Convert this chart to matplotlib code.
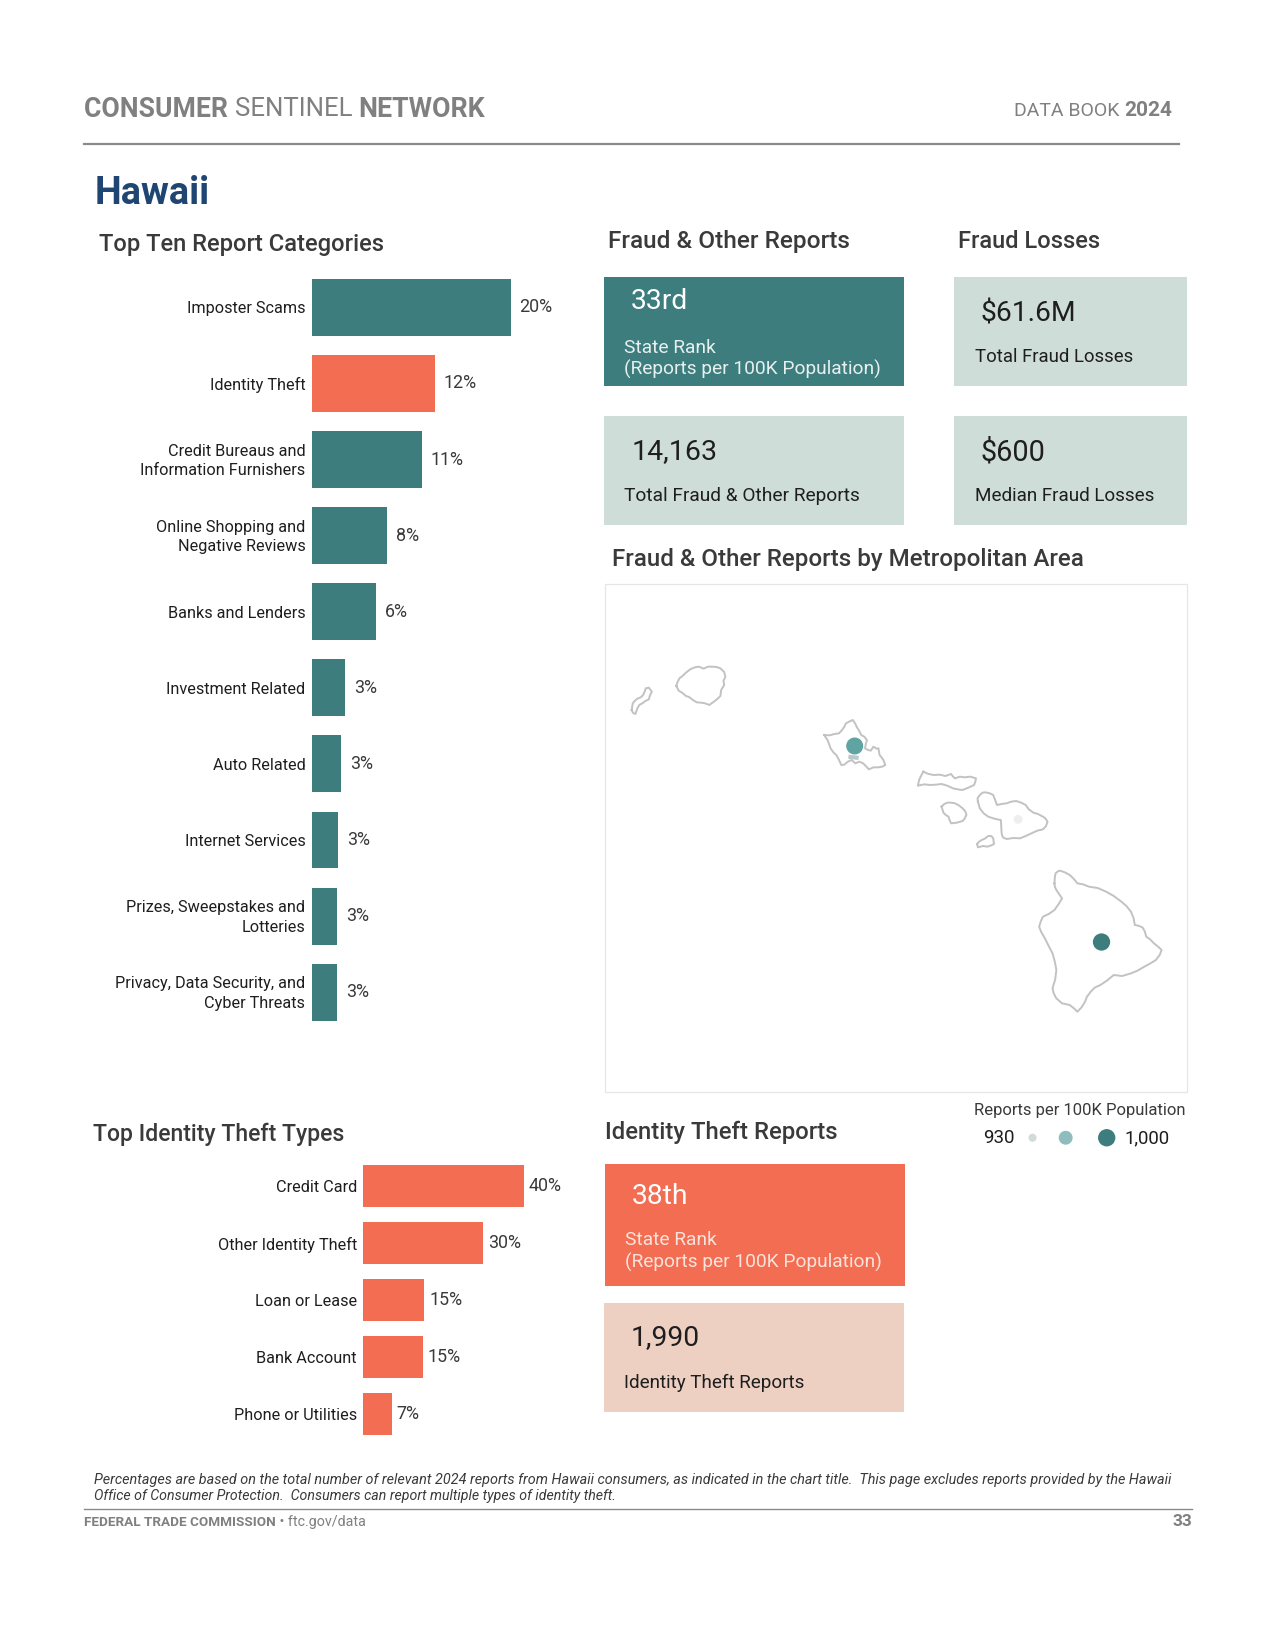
import matplotlib
matplotlib.use("Agg")
import matplotlib.pyplot as plt
from matplotlib.patches import Rectangle
from matplotlib.transforms import ScaledTranslation

plt.rcParams['font.family'] = ['Roboto', 'DejaVu Sans']

W, H = 1275, 1650
K = 1.0525  # measured positions below are on a slightly smaller copy of the page

TEAL = "#3E7D7E"
ORANGE = "#F26D52"
PALE_TEAL = "#CFDDD8"
PEACH = "#EDD0C2"
GREY = "#808080"
DARK = "#3A3A3A"
BLACK = "#1E1E1E"

top_cats = ["Imposter Scams", "Identity Theft", "Credit Bureaus and\nInformation Furnishers",
            "Online Shopping and\nNegative Reviews", "Banks and Lenders", "Investment Related",
            "Auto Related", "Internet Services", "Prizes, Sweepstakes and\nLotteries",
            "Privacy, Data Security, and\nCyber Threats"]
top_vals = [19.7, 12.2, 10.9, 7.5, 6.4, 3.3, 2.9, 2.6, 2.55, 2.55]
top_colors = [TEAL, ORANGE, TEAL, TEAL, TEAL, TEAL, TEAL, TEAL, TEAL, TEAL]

id_cats = ["Credit Card", "Other Identity Theft", "Loan or Lease", "Bank Account", "Phone or Utilities"]
id_vals = [40.2, 30.0, 15.3, 15.0, 7.1]

# island outlines
kauai_x = [197, 200, 205, 213, 222, 233, 245, 256, 268, 280, 290, 302, 312, 322, 325, 320, 322, 314, 312, 303, 295, 283, 272, 262, 250, 240, 230, 222, 212, 203, 197]
kauai_y = [198, 186, 175, 168, 158, 148, 142, 140, 146, 140, 140, 141, 145, 156, 170, 183, 195, 210, 228, 238, 245, 255, 250, 248, 247, 240, 231, 228, 218, 212, 198]
niihau_x = [80, 83, 88, 95, 104, 110, 114, 117, 125, 133, 128, 125, 116, 108, 100, 95, 90, 84, 80]
niihau_y = [270, 250, 243, 236, 232, 225, 215, 205, 203, 215, 226, 238, 243, 250, 255, 265, 282, 279, 270]
oahu_x = [583, 597, 610, 622, 630, 636, 640, 650, 658, 664, 668, 675, 680, 688, 695, 692, 690, 698, 705, 712, 720, 725, 728, 733, 738, 743, 735, 725, 712, 700, 692, 685, 675, 665, 655, 645, 636, 628, 622, 615, 608, 600, 596, 592, 583]
oahu_y = [345, 346, 342, 340, 330, 320, 310, 304, 300, 310, 320, 333, 345, 350, 360, 372, 385, 390, 392, 380, 386, 385, 405, 412, 420, 435, 440, 442, 442, 448, 438, 430, 425, 430, 420, 425, 434, 435, 420, 405, 398, 385, 372, 360, 345]
molokai_x = [842, 856, 870, 885, 900, 915, 920, 925, 938, 950, 965, 980, 978, 975, 960, 945, 932, 920, 905, 890, 875, 860, 845, 828, 830, 832, 842]
molokai_y = [455, 462, 465, 464, 468, 462, 470, 475, 470, 472, 470, 475, 486, 495, 503, 510, 508, 505, 497, 492, 494, 495, 493, 497, 487, 478, 455]
lanai_x = [890, 897, 905, 915, 925, 935, 945, 952, 955, 950, 945, 930, 915, 911, 908, 900, 895, 890]
lanai_y = [560, 552, 548, 548, 550, 556, 565, 574, 585, 596, 603, 608, 610, 600, 590, 584, 578, 560]
maui_x = [985, 984, 990, 997, 1005, 1016, 1025, 1030, 1035, 1047, 1060, 1072, 1085, 1098, 1110, 1118, 1130, 1142, 1155, 1162, 1167, 1163, 1155, 1140, 1125, 1110, 1095, 1078, 1060, 1050, 1047, 1046, 1045, 1035, 1025, 1012, 1000, 990, 985]
maui_y = [545, 535, 525, 518, 517, 520, 525, 540, 555, 552, 550, 545, 543, 548, 555, 568, 578, 582, 590, 596, 605, 618, 628, 632, 640, 648, 655, 654, 657, 652, 640, 620, 600, 598, 595, 590, 580, 565, 545]
kahoolawe_x = [983, 988, 995, 1003, 1012, 1020, 1025, 1027, 1020, 1010, 998, 985, 983]
kahoolawe_y = [672, 665, 660, 656, 648, 648, 655, 672, 676, 680, 678, 682, 672]
big_x = [1185, 1186, 1188, 1194, 1200, 1212, 1225, 1235, 1245, 1260, 1275, 1298, 1320, 1340, 1360, 1373, 1385, 1392, 1395, 1404, 1415, 1421, 1425, 1435, 1445, 1456, 1465, 1460, 1450, 1436, 1420, 1402, 1385, 1362, 1340, 1322, 1305, 1290, 1280, 1270, 1265, 1256, 1245, 1236, 1225, 1205, 1190, 1183, 1180, 1187, 1190, 1186, 1180, 1170, 1160, 1150, 1145, 1149, 1155, 1170, 1185, 1196, 1205, 1197, 1190, 1186, 1185]
big_y = [790, 772, 760, 754, 752, 757, 765, 776, 790, 793, 800, 804, 815, 828, 845, 858, 875, 895, 915, 917, 922, 934, 950, 958, 970, 980, 990, 1005, 1020, 1030, 1040, 1052, 1060, 1068, 1065, 1082, 1095, 1103, 1115, 1130, 1145, 1162, 1175, 1165, 1155, 1150, 1135, 1120, 1105, 1078, 1050, 1025, 1000, 978, 955, 935, 920, 905, 890, 882, 870, 852, 835, 822, 810, 800, 790]
islands = [(kauai_x, kauai_y), (niihau_x, niihau_y), (oahu_x, oahu_y), (molokai_x, molokai_y),
           (lanai_x, lanai_y), (maui_x, maui_y), (kahoolawe_x, kahoolawe_y), (big_x, big_y)]

harbor_x = [652, 668]
harbor_y = [411, 413]

metro_x = [663, 1090, 1308]
metro_y = [378, 598, 966]
metro_sizes = [150, 40, 155]
metro_colors = ["#5FA3A3", "#EEEEEE", TEAL]

legend_x = [981, 1012.5, 1051.5]
legend_sizes = [34, 100, 156]
legend_colors = ["#D3DADA", "#8FBDBD", TEAL]


def px_axes(fig, x, y, w, h):
    # rect given in page pixels, y going down
    return fig.add_axes([x / W, 1 - (y + h) / H, w / W, h / H])


def bar_panel(fig, cats, vals, colors, left, first_y, step, bar_h, per_pct, max_pct, gap):
    ax = px_axes(fig, left * K, (first_y - step / 2) * K, per_pct * max_pct * K, step * len(cats) * K)
    ax.barh(range(len(cats)), vals, height=bar_h / step, color=colors)
    ax.set_xlim(0, max_pct)
    ax.set_ylim(len(cats) - 0.5, -0.5)
    ax.set_xticks([])
    ax.set_yticks(range(len(cats)))
    ax.set_yticklabels(cats, fontsize=11.7, color=BLACK, linespacing=1.38)
    ax.tick_params(axis='y', length=0, pad=4.5)
    # two-line labels sit a little high in the original
    for lab in ax.get_yticklabels():
        if "\n" in lab.get_text():
            lab.set_transform(lab.get_transform() + ScaledTranslation(0, 1.6 / 72, fig.dpi_scale_trans))
    for s in ax.spines.values():
        s.set_visible(False)
    ax.patch.set_alpha(0)
    for i, v in enumerate(vals):
        ax.annotate(f"{v:.0f}%", (v, i), xytext=(gap, 0), textcoords='offset points',
                    va='center', fontsize=12.9, color=DARK)
    return ax


def txt(page, x, y, s, size=12, color=BLACK, weight='normal', ha='left', style='normal'):
    return page.text(x * K, y * K + 1.5, s, fontsize=size, color=color, fontweight=weight,
                     ha=ha, va='center', fontstyle=style)


def runs(page, fig, x, y, parts, color):
    # consecutive regular/bold pieces on one line
    cur = x * K
    r = fig.canvas.get_renderer()
    for s, weight, size in parts:
        t = page.text(cur, y * K + 1.5, s, fontsize=size, color=color, fontweight=weight, va='center')
        cur = page.transData.inverted().transform(t.get_window_extent(r).p1)[0]


def box(page, x0, y0, x1, y1, color):
    page.add_patch(Rectangle((x0 * K, y0 * K), (x1 - x0) * K, (y1 - y0) * K, color=color, lw=0))


fig = plt.figure(figsize=(W / 100, H / 100), dpi=100, facecolor="white")
page = fig.add_axes([0, 0, 1, 1])
page.set_xlim(0, W)
page.set_ylim(H, 0)
page.axis('off')

# header
runs(page, fig, 80, 102.5, [("CONSUMER ", 'bold', 19.2), ("SENTINEL ", 'normal', 18.5), ("NETWORK", 'bold', 19.3)], GREY)
runs(page, fig, 963, 104, [("DATA BOOK ", 'normal', 14), ("2024", 'bold', 15)], GREY)
page.plot([80 * K, 1120 * K], [137 * K, 137 * K], color="#8A8A8A", lw=1.6)
txt(page, 90, 182, "Hawaii", 27.3, "#1F4672", 'bold')

# section titles
txt(page, 94, 231, "Top Ten Report Categories", 17.1, DARK, 'medium')
txt(page, 578, 228, "Fraud & Other Reports", 17.6, DARK, 'medium')
txt(page, 910, 228, "Fraud Losses", 17, DARK, 'medium')
txt(page, 581, 530, "Fraud & Other Reports by Metropolitan Area", 17.4, DARK, 'medium')
txt(page, 88, 1076, "Top Identity Theft Types", 16.6, DARK, 'medium')
txt(page, 575, 1074, "Identity Theft Reports", 17.2, DARK, 'medium')

# stat boxes
box(page, 574, 263, 859, 367, TEAL)
txt(page, 599, 285.5, "33rd", 20.3, "white")
txt(page, 593, 329, "State Rank", 13.8, "#E6F0EE")
txt(page, 593, 350, "(Reports per 100K Population)", 13.8, "#E6F0EE")

box(page, 906, 263, 1128, 367, PALE_TEAL)
txt(page, 932, 296.5, "$61.6M", 20.3)
txt(page, 926, 338, "Total Fraud Losses", 13.4)

box(page, 574, 395, 859, 499, PALE_TEAL)
txt(page, 600, 428, "14,163", 20.5)
txt(page, 593, 470, "Total Fraud & Other Reports", 13.8)

box(page, 906, 395, 1128, 499, PALE_TEAL)
txt(page, 932, 428.5, "$600", 20.8)
txt(page, 926, 470, "Median Fraud Losses", 13.6)

box(page, 575, 1106, 860, 1222, ORANGE)
txt(page, 600, 1135, "38th", 20.3, "white")
txt(page, 594, 1177, "State Rank", 13.8, "#FBE3DC")
txt(page, 594, 1198, "(Reports per 100K Population)", 13.8, "#FBE3DC")

box(page, 574, 1238, 859, 1342, PEACH)
txt(page, 599, 1269.5, "1,990", 20.3)
txt(page, 593, 1313, "Identity Theft Reports", 13.6)

# bars
bar_panel(fig, top_cats, top_vals, top_colors, 296, 292, 72.3, 54, 9.6, 26, 6.5)
bar_panel(fig, id_cats, id_vals, [ORANGE] * len(id_vals), 345, 1127, 54.2, 40, 3.8, 52, 3.5)

# map
page.add_patch(Rectangle((575 * K, 555 * K), 553 * K, 483 * K, fill=False, ec="#E6E6E6", lw=0.9))
mp = px_axes(fig, 601, 620, 600, 420)
mp.set_xlim(0, 1568)
mp.set_ylim(1260, 0)
mp.axis('off')
for xs, ys in islands:
    mp.plot(xs, ys, color="#C2C2C2", lw=1.4)
mp.plot(harbor_x, harbor_y, color="#BDC6C8", lw=3)
mp.scatter(metro_x, metro_y, s=metro_sizes, c=metro_colors, linewidths=0, zorder=3)

# legend
txt(page, 925, 1054, "Reports per 100K Population", 12, DARK)
txt(page, 934, 1080, "930", 13.5)
txt(page, 1068, 1080, "1,000", 13.4)
page.scatter([x * K for x in legend_x], [1081 * K] * 3, s=legend_sizes, c=legend_colors, linewidths=0)

# footnote and footer
txt(page, 89, 1405, "Percentages are based on the total number of relevant 2024 reports from Hawaii consumers, as indicated in the chart title.  This page excludes reports provided by the Hawaii",
    10.37, DARK, style='italic')
txt(page, 89, 1420, "Office of Consumer Protection.  Consumers can report multiple types of identity theft.",
    10.2, DARK, style='italic')
page.plot([80 * K, 1133 * K], [1433.5 * K, 1433.5 * K], color="#8A8A8A", lw=1)
runs(page, fig, 80, 1445, [("FEDERAL TRADE COMMISSION", 'bold', 9.7), (" \u2022 ftc.gov/data", 'normal', 10.3)], GREY)
txt(page, 1133, 1444, "33", 12.5, GREY, 'bold', ha='right')

fig.savefig("out.png", dpi=100)
